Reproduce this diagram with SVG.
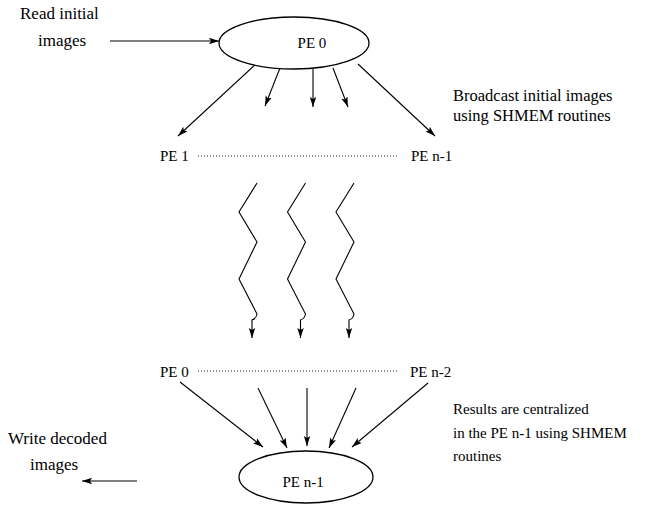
<svg xmlns="http://www.w3.org/2000/svg" width="650" height="506" viewBox="0 0 650 506">
<defs>
<marker id="ah" markerWidth="11" markerHeight="8" refX="10" refY="4" orient="auto" markerUnits="userSpaceOnUse">
<path d="M0,0.8 L10,4 L0,7.2 L2,4 Z" fill="#000"/>
</marker>
<style>
text{font-family:"Liberation Serif","Times New Roman",serif;font-size:15px;fill:#000}
.big{font-size:17px}
.mid{font-size:16.5px}
.sm{font-size:15px}
.n{fill:#fff;stroke:#000;stroke-width:1.3}
.c{fill:none;stroke:#000;stroke-width:1.1}
.a{marker-end:url(#ah)}
.d{fill:none;stroke:#000;stroke-width:0.9;stroke-dasharray:1,2}
</style>
</defs>
<rect width="650" height="506" fill="#fff"/>
<g id="connectors">
<line class="c a" x1="110" y1="41" x2="219" y2="41"/>
<line class="c a" x1="256" y1="64" x2="178" y2="136"/>
<line class="c a" x1="280" y1="68" x2="265" y2="106"/>
<line class="c a" x1="313" y1="69" x2="313" y2="107"/>
<line class="c a" x1="333" y1="68" x2="348" y2="107"/>
<line class="c a" x1="358" y1="64" x2="435" y2="136"/>
<path class="c a" d="M257,183 L239,212 L257,242 L239,279 L257,314 Q256,319 252,320 L252,338"/>
<path class="c a" d="M305.5,183 L287.5,212 L305.5,242 L287.5,279 L305.5,314 Q304.5,319 300.5,320 L300.5,338"/>
<path class="c a" d="M354,183 L336,212 L354,242 L336,279 L354,314 Q353,319 349,320 L349,338"/>
<line class="c a" x1="180" y1="382" x2="263" y2="447"/>
<line class="c a" x1="258" y1="388" x2="287" y2="448"/>
<line class="c a" x1="307" y1="388" x2="307" y2="446"/>
<line class="c a" x1="356" y1="388" x2="329" y2="448"/>
<line class="c a" x1="428" y1="383" x2="352" y2="447"/>
<line class="c a" x1="137" y1="481" x2="82" y2="481"/>
<line class="d" x1="198" y1="156" x2="397" y2="156"/>
<line class="d" x1="198" y1="371" x2="397" y2="371"/>
</g>
<g id="pe0-top">
<ellipse class="n" cx="294" cy="43" rx="75" ry="26"/>
<text x="312" y="48" text-anchor="middle">PE 0</text>
</g>
<g id="read-label">
<text class="big" x="20" y="19">Read initial</text>
<text class="big" x="38" y="46">images</text>
</g>
<g id="broadcast-label">
<text class="mid" x="453" y="101">Broadcast initial images</text>
<text class="mid" x="453" y="121">using SHMEM routines</text>
</g>
<g id="pe1"><text x="160" y="161">PE 1</text></g>
<g id="pen1-top"><text x="411" y="161">PE n-1</text></g>
<g id="pe0-bottom"><text x="160" y="377">PE 0</text></g>
<g id="pen2"><text x="410" y="377">PE n-2</text></g>
<g id="results-label">
<text class="sm" x="453" y="414">Results are centralized</text>
<text class="sm" x="453" y="438">in the PE n-1 using SHMEM</text>
<text class="sm" x="453" y="461">routines</text>
</g>
<g id="pen1-bottom">
<ellipse class="n" cx="306" cy="477" rx="67" ry="26"/>
<text x="303" y="487" text-anchor="middle">PE n-1</text>
</g>
<g id="write-label">
<text class="big" x="8" y="444">Write decoded</text>
<text class="big" x="30" y="470">images</text>
</g>
</svg>
